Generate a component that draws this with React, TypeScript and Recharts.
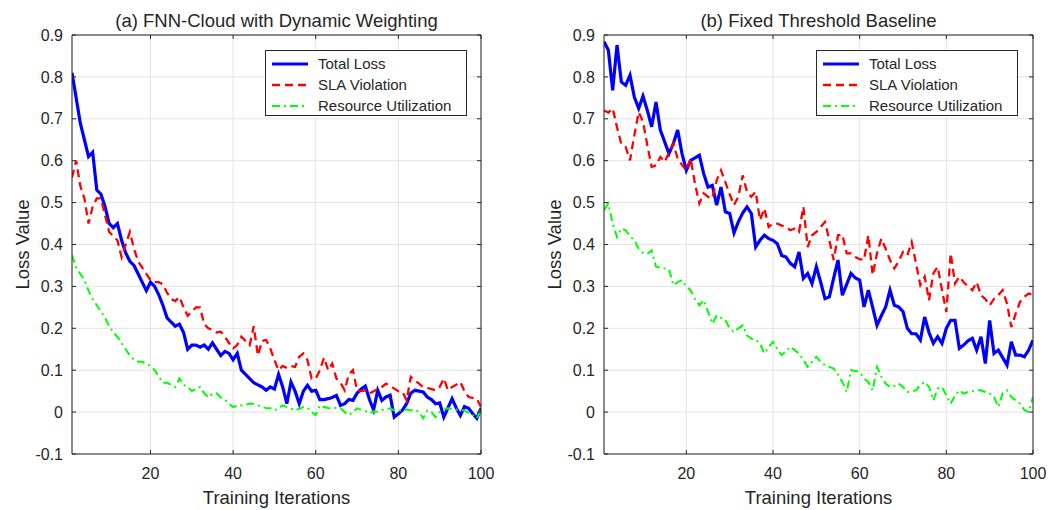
import React from 'react';
import { LineChart, Line, XAxis, YAxis, CartesianGrid, Legend } from 'recharts';

const iterations = Array.from({ length: 100 }, (_, k) => k + 1);
const xTicks = [20, 40, 60, 80, 100];
const yTicks = [-0.1, 0, 0.1, 0.2, 0.3, 0.4, 0.5, 0.6, 0.7, 0.8, 0.9];
const seriesNames = ['Total Loss', 'SLA Violation', 'Resource Utilization'];
const panelTitles = ['(a) FNN-Cloud with Dynamic Weighting', '(b) Fixed Threshold Baseline'];
const xLabel = 'Training Iterations';
const yLabel = 'Loss Value';

const dynTotal = [
  0.81, 0.75, 0.69, 0.65, 0.61, 0.62, 0.53, 0.52, 0.49, 0.45,
  0.44, 0.45, 0.41, 0.38, 0.36, 0.35, 0.33, 0.31, 0.29, 0.31,
  0.30, 0.28, 0.255, 0.225, 0.215, 0.205, 0.21, 0.19, 0.15, 0.16,
  0.16, 0.155, 0.16, 0.15, 0.165, 0.15, 0.135, 0.145, 0.14, 0.125,
  0.14, 0.10, 0.09, 0.08, 0.07, 0.065, 0.06, 0.052, 0.06, 0.055,
  0.09, 0.06, 0.02, 0.072, 0.05, 0.02, 0.05, 0.064, 0.05, 0.052,
  0.03, 0.03, 0.032, 0.035, 0.04, 0.016, 0.02, 0.03, 0.028, 0.045,
  0.055, 0.062, 0.03, 0.005, 0.052, 0.028, 0.036, 0.04, -0.012, -0.004,
  0.005, 0.02, 0.045, 0.052, 0.05, 0.048, 0.036, 0.03, 0.02, 0.022,
  -0.012, 0.01, 0.032, 0.01, -0.008, 0.013, 0.009, -0.004, -0.015, 0.009,
];
const dynSla = [
  0.56, 0.60, 0.54, 0.51, 0.45, 0.49, 0.51, 0.51, 0.47, 0.43,
  0.42, 0.41, 0.37, 0.40, 0.43, 0.39, 0.36, 0.345, 0.33, 0.315,
  0.31, 0.31, 0.305, 0.285, 0.27, 0.265, 0.275, 0.25, 0.23, 0.24,
  0.25, 0.25, 0.21, 0.20, 0.196, 0.19, 0.192, 0.18, 0.165, 0.152,
  0.16, 0.18, 0.17, 0.16, 0.205, 0.135, 0.17, 0.172, 0.152, 0.124,
  0.10, 0.11, 0.105, 0.11, 0.108, 0.132, 0.14, 0.124, 0.08, 0.08,
  0.10, 0.13, 0.10, 0.116, 0.08, 0.07, 0.052, 0.09, 0.10, 0.052,
  0.05, 0.052, 0.044, 0.05, 0.055, 0.06, 0.068, 0.062, 0.056, 0.05,
  0.048, 0.028, 0.084, 0.075, 0.068, 0.06, 0.058, 0.055, 0.052, 0.06,
  0.08, 0.052, 0.06, 0.065, 0.072, 0.05, 0.036, 0.034, 0.032, 0.012,
];
const dynRes = [
  0.375, 0.345, 0.33, 0.315, 0.29, 0.27, 0.255, 0.24, 0.225, 0.205,
  0.19, 0.18, 0.165, 0.15, 0.135, 0.125, 0.12, 0.12, 0.115, 0.11,
  0.10, 0.085, 0.07, 0.07, 0.065, 0.06, 0.08, 0.065, 0.06, 0.05,
  0.055, 0.06, 0.045, 0.035, 0.044, 0.045, 0.035, 0.03, 0.02, 0.012,
  0.015, 0.016, 0.018, 0.02, 0.02, 0.016, 0.012, 0.01, 0.009, 0.004,
  0.01, 0.016, 0.012, 0.008, 0.004, 0.008, 0.012, 0.01, 0.0, -0.007,
  0.016, 0.012, 0.01, 0.009, 0.01, 0.009, 0.0, -0.007, 0.0, 0.009,
  0.006, 0.003, -0.003, 0.002, 0.001, 0.005, 0.007, 0.009, 0.004, 0.003,
  0.005, 0.006, 0.004, 0.006, 0.0, -0.015, 0.004, 0.0, -0.012, 0.0,
  0.006, 0.009, 0.007, 0.006, 0.005, 0.004, -0.002, -0.007, -0.015, 0.006,
];

const fixTotal = [
  0.884, 0.864, 0.768, 0.876, 0.788, 0.78, 0.804, 0.752, 0.725, 0.754,
  0.72, 0.681, 0.74, 0.673, 0.645, 0.617, 0.641, 0.673, 0.617, 0.577,
  0.601, 0.607, 0.613, 0.569, 0.537, 0.541, 0.494, 0.537, 0.478, 0.474,
  0.428, 0.454, 0.475, 0.49, 0.474, 0.394, 0.41, 0.422, 0.414, 0.41,
  0.402, 0.374, 0.37, 0.355, 0.347, 0.382, 0.319, 0.331, 0.307, 0.347,
  0.31, 0.271, 0.275, 0.32, 0.363, 0.279, 0.305, 0.331, 0.32, 0.315,
  0.251, 0.291, 0.25, 0.207, 0.23, 0.251, 0.291, 0.255, 0.251, 0.24,
  0.2, 0.187, 0.187, 0.172, 0.227, 0.19, 0.164, 0.18, 0.164, 0.2,
  0.219, 0.219, 0.152, 0.16, 0.17, 0.176, 0.148, 0.18, 0.116, 0.219,
  0.14, 0.148, 0.13, 0.112, 0.168, 0.136, 0.136, 0.132, 0.148, 0.172,
];
const fixSla = [
  0.72, 0.715, 0.725, 0.68, 0.64, 0.633, 0.601, 0.661, 0.716, 0.693,
  0.637, 0.585, 0.589, 0.609, 0.597, 0.62, 0.641, 0.605, 0.59, 0.577,
  0.605, 0.545, 0.498, 0.522, 0.514, 0.51, 0.553, 0.577, 0.549, 0.52,
  0.494, 0.514, 0.565, 0.526, 0.514, 0.526, 0.458, 0.486, 0.442, 0.45,
  0.45, 0.445, 0.442, 0.434, 0.438, 0.43, 0.49, 0.394, 0.422, 0.43,
  0.442, 0.454, 0.41, 0.363, 0.422, 0.424, 0.379, 0.379, 0.37, 0.365,
  0.363, 0.422, 0.327, 0.379, 0.414, 0.39, 0.363, 0.343, 0.36, 0.382,
  0.374, 0.406, 0.355, 0.303, 0.323, 0.267, 0.331, 0.347, 0.291, 0.239,
  0.379, 0.307, 0.323, 0.31, 0.3, 0.291, 0.31, 0.279, 0.27, 0.255,
  0.27, 0.279, 0.291, 0.259, 0.203, 0.235, 0.263, 0.275, 0.283, 0.28,
];
const fixRes = [
  0.482, 0.498, 0.45, 0.418, 0.438, 0.434, 0.42, 0.41, 0.39, 0.38,
  0.378, 0.386, 0.347, 0.345, 0.343, 0.341, 0.303, 0.31, 0.315, 0.3,
  0.291, 0.27, 0.255, 0.267, 0.24, 0.211, 0.231, 0.225, 0.219, 0.2,
  0.191, 0.2, 0.207, 0.183, 0.175, 0.172, 0.164, 0.14, 0.155, 0.168,
  0.15, 0.136, 0.145, 0.156, 0.148, 0.14, 0.125, 0.108, 0.12, 0.132,
  0.12, 0.112, 0.108, 0.104, 0.09, 0.072, 0.048, 0.1, 0.098, 0.096,
  0.08, 0.072, 0.052, 0.108, 0.085, 0.068, 0.06, 0.062, 0.068, 0.06,
  0.048, 0.05, 0.052, 0.065, 0.072, 0.06, 0.028, 0.056, 0.06, 0.04,
  0.02, 0.04, 0.052, 0.044, 0.048, 0.05, 0.052, 0.052, 0.048, 0.044,
  0.036, 0.012, 0.045, 0.052, 0.036, 0.028, 0.02, 0.005, 0.0, 0.036,
];

const FONT = '"Liberation Sans", Arial, Helvetica, sans-serif';
const INK = '#262626';
const COLORS = ['#0000ff', '#ff0000', '#00ff00'];
const WIDTHS = [3.2, 2.3, 2];
const DASHES = [undefined, '8 5', '8 4 2 4'];
const KEYS = ['total', 'sla', 'res'];

function buildRows(a: number[], b: number[], c: number[]) {
  return iterations.map((it, k) => ({ i: it, total: a[k], sla: b[k], res: c[k] }));
}

const LegendBox = () => (
  <div
    style={{
      width: 202,
      height: 66,
      border: `1px solid ${INK}`,
      background: '#fff',
      boxSizing: 'border-box',
      fontFamily: FONT,
      fontSize: 15,
      color: INK,
      paddingTop: 2,
    }}
  >
    {seriesNames.map((name, idx) => (
      <div key={name} style={{ display: 'flex', alignItems: 'center', height: 21 }}>
        <svg width={50} height={10} style={{ display: 'block' }}>
          <line
            x1={6}
            x2={42}
            y1={5}
            y2={5}
            stroke={COLORS[idx]}
            strokeWidth={WIDTHS[idx]}
            strokeDasharray={DASHES[idx]}
          />
        </svg>
        <span style={{ marginLeft: 2, whiteSpace: 'nowrap' }}>{name}</span>
      </div>
    ))}
  </div>
);

type PanelProps = {
  title: string;
  rows: any[];
  left: number;
  marginLeft: number;
  marginRight: number;
  legendLeft: number;
};

const Panel = ({ title, rows, left, marginLeft, marginRight, legendLeft }: PanelProps) => {
  const yLabelRender = (props: any) => {
    const vb = props.viewBox || {};
    const cx = vb.x - 10;
    const cy = vb.y + vb.height / 2;
    return (
      <text
        x={cx}
        y={cy}
        transform={`rotate(-90, ${cx}, ${cy})`}
        textAnchor="middle"
        dominantBaseline="central"
        fontSize={18.5}
        fill={INK}
        fontFamily={FONT}
      >
        {yLabel}
      </text>
    );
  };
  const xLabelRender = (props: any) => {
    const vb = props.viewBox || {};
    return (
      <text x={vb.x + vb.width / 2} y={504} textAnchor="middle" fontSize={18.5} fill={INK} fontFamily={FONT}>
        {xLabel}
      </text>
    );
  };
  const titleRender = (props: any) => {
    const vb = props.viewBox || {};
    return (
      <text x={vb.x + vb.width / 2} y={27} textAnchor="middle" fontSize={18.5} fill={INK} fontFamily={FONT}>
        {title}
      </text>
    );
  };
  const tickStyle = { fontSize: 16, fill: INK, fontFamily: FONT };
  return (
    <div style={{ position: 'absolute', left, top: 0, width: 525, height: 510 }}>
      <LineChart
        width={525}
        height={510}
        data={rows}
        margin={{ top: 34, right: marginRight - 1, bottom: 26, left: marginLeft }}
        style={{ fontFamily: FONT }}
      >
        <CartesianGrid stroke="#e3e3e3" strokeWidth={1} />
        <XAxis
          dataKey="i"
          type="number"
          domain={[1, 100]}
          ticks={xTicks}
          allowDataOverflow
          height={30}
          stroke={INK}
          tickSize={-4}
          tickMargin={18}
          tick={tickStyle}
          label={{ content: xLabelRender }}
        />
        <XAxis
          xAxisId="top"
          orientation="top"
          dataKey="i"
          type="number"
          domain={[1, 100]}
          ticks={xTicks}
          allowDataOverflow
          height={1}
          stroke={INK}
          tickSize={-4}
          tickFormatter={() => ''}
          label={{ content: titleRender }}
        />
        <YAxis
          type="number"
          domain={[-0.1, 0.9]}
          ticks={yTicks}
          allowDataOverflow
          width={40}
          stroke={INK}
          tickSize={-4}
          tickMargin={13}
          tick={tickStyle}
          tickFormatter={(v: number) => String(v)}
          label={{ content: yLabelRender }}
        />
        <YAxis
          yAxisId="right"
          orientation="right"
          type="number"
          domain={[-0.1, 0.9]}
          ticks={yTicks}
          allowDataOverflow
          width={1}
          stroke={INK}
          tickSize={-4}
          tickFormatter={() => ''}
        />
        {KEYS.map((k, idx) => (
          <Line
            key={k}
            type="linear"
            dataKey={k}
            name={seriesNames[idx]}
            stroke={COLORS[idx]}
            strokeWidth={WIDTHS[idx]}
            strokeDasharray={DASHES[idx]}
            dot={false}
            activeDot={false}
            isAnimationActive={false}
          />
        ))}
        <Legend
          layout="vertical"
          align="center"
          verticalAlign="middle"
          content={() => <LegendBox />}
          wrapperStyle={{ left: legendLeft, top: 50, width: 202, height: 66 }}
        />
      </LineChart>
    </div>
  );
};

export default function App() {
  return (
    <div style={{ position: 'absolute', left: 0, top: 0, width: 1050, height: 510, background: '#fff' }}>
      <Panel
        title={panelTitles[0]}
        rows={buildRows(dynTotal, dynSla, dynRes)}
        left={0}
        marginLeft={32}
        marginRight={44}
        legendLeft={265}
      />
      <Panel
        title={panelTitles[1]}
        rows={buildRows(fixTotal, fixSla, fixRes)}
        left={525}
        marginLeft={39}
        marginRight={17}
        legendLeft={291}
      />
    </div>
  );
}
